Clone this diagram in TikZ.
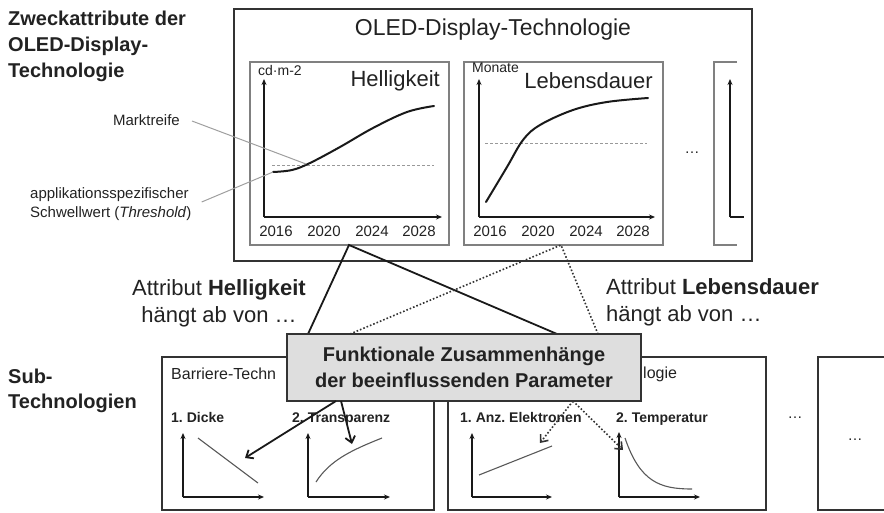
\documentclass[tikz,border=0pt]{standalone}
\usepackage{fontspec}
\setmainfont{Liberation Sans}
\usetikzlibrary{arrows.meta}
\newcommand{\fsz}[2]{\fontsize{#1}{#2}\selectfont}
\definecolor{txt}{HTML}{222222}
\definecolor{frame}{HTML}{333333}
\definecolor{panelc}{HTML}{808080}
\definecolor{boxfill}{HTML}{DEDEDE}
\frenchspacing
\begin{document}
\begin{tikzpicture}[x=1pt,y=-1pt,
  lbl/.style={inner sep=0pt,text=txt},
  bigframe/.style={draw=frame,line width=2pt},
  panel/.style={draw=panelc,line width=1.3pt},
  axis/.style={draw=black!90,line width=2pt,-{Stealth[length=6pt,width=5pt]}},
  curve/.style={draw=black!90,line width=2pt,line cap=round},
  thresh/.style={draw=gray!80,line width=1pt,dash pattern=on 3pt off 2pt},
  leader/.style={draw=gray!75,line width=1pt},
  minicurve/.style={draw=gray!70!black,line width=1.1pt},
  link/.style={draw=black!90,line width=1.8pt},
  dlink/.style={draw=black!80,line width=1.6pt,dotted},
  arr/.style={draw=black!90,line width=1.8pt,-{Straight Barb[length=6pt,width=10pt]}},
  darr/.style={draw=black!80,line width=1.6pt,dotted,-{Straight Barb[length=6pt,width=10pt]}},
  year/.style={lbl,font=\fsz{15}{18}},
  unit/.style={lbl,font=\fsz{14}{17},anchor=west},
  sublbl/.style={lbl,font=\fsz{14}{17}\bfseries,anchor=base west},
  dots/.style={lbl,font=\fsz{15}{18}}
]
\useasboundingbox (0,0) rectangle (884,512);
\begin{scope}
\clip (0,0) rectangle (884,512);

% ---------- left labels ----------
\node[lbl,anchor=west,align=left,font=\fsz{20}{26}\bfseries] (zweck) at (8,46)
  {Zweckattribute der\\OLED-Display-\\Technologie};
\node[lbl,anchor=west,align=left,font=\fsz{20}{25}\bfseries] (subtech) at (8,391)
  {Sub-\\Technologien};
\node[lbl,anchor=east,font=\fsz{15}{19}] (markt) at (180,120) {Marktreife};
\node[lbl,anchor=west,align=left,font=\fsz{15}{19}] (schwell) at (30,204)
  {applikationsspezifischer\\Schwellwert (\textit{Threshold})};

% ---------- OLED main frame ----------
\draw[bigframe] (234,9) rectangle (752,261);
\node[lbl,font=\fsz{23}{27}] (oled) at (493,30) {OLED-Display-Technologie};

% Helligkeit panel
\draw[panel] (250,62) rectangle (449,245);
\coordinate (hb) at (349,245);
\draw[axis] (264,217) -- (264,79);
\draw[axis] (264,217) -- (442,217);
\node[unit] (hunit) at (258,70) {cd·m-2};
\node[lbl,anchor=east,font=\fsz{22}{26}] (hell) at (440,81) {Helligkeit};
\draw[thresh] (272,165) -- (434,165);
\coordinate (hstart) at (273,172);
\coordinate (hmark) at (306,164);
\draw[curve] plot[smooth,tension=0.6] coordinates {(273,172) (292,170) (310,163) (340,147) (373,128) (407,112) (434,106)};
\node[year] (h16) at (276,231) {2016};
\node[year] (h20) at (324,231) {2020};
\node[year] (h24) at (372,231) {2024};
\node[year] (h28) at (419,231) {2028};

% Lebensdauer panel
\draw[panel] (464,62) rectangle (663,245);
\coordinate (lb) at (561,245);
\draw[axis] (479,217) -- (479,79);
\draw[axis] (479,217) -- (655,217);
\node[unit] (lunit) at (472,68) {Monate};
\node[lbl,anchor=east,font=\fsz{22}{26}] (leb) at (653,81) {Lebensdauer};
\draw[thresh] (485,143) -- (647,143);
\draw[curve] plot[smooth,tension=0.6] coordinates {(486,202) (507,167) (523,140) (540,125) (573,110) (607,102) (648,98)};
\node[year] (l16) at (490,231) {2016};
\node[year] (l20) at (538,231) {2020};
\node[year] (l24) at (586,231) {2024};
\node[year] (l28) at (633,231) {2028};

% dots and partial panel
\node[dots] (tdots) at (692,153) {\dots};
\draw[panel] (737,62) -- (714,62) -- (714,245) -- (737,245);
\draw[axis] (730,217) -- (730,79);
\draw[draw=black!90,line width=2pt] (730,217) -- (744,217);

% leaders
\draw[leader] (markt.east) ++(12,1) coordinate (mk) -- (hmark);
\draw[leader] (schwell.east) ++(10,-2) coordinate (sw) -- (hstart);

% ---------- middle texts ----------
\node[lbl,align=center,font=\fsz{22}{27}] (attrH) at (219,303)
  {Attribut \textbf{Helligkeit}\\hängt ab von …};
\node[lbl,anchor=west,align=left,font=\fsz{22}{27}] (attrL) at (606,302)
  {Attribut \textbf{Lebensdauer}\\hängt ab von …};

% ---------- bottom boxes ----------
\draw[bigframe] (162,357) rectangle (434,510);
\node[lbl,anchor=west,font=\fsz{16}{19}] (barr) at (171,374) {Barriere-Techn};
\node[sublbl] (dicke) at (171,422) {1. Dicke};
\node[sublbl] (transp) at (292,422) {2. Transparenz};
\draw[axis] (183,497) -- (183,433);
\draw[axis] (183,497) -- (264,497);
\draw[minicurve] (198,438) -- (258,483);
\coordinate (dtarget) at (245,458);
\draw[axis] (308,497) -- (308,433);
\draw[axis] (308,497) -- (390,497);
\draw[minicurve] (316,482) .. controls (330,460) and (352,450) .. (382,438);
\coordinate (ttarget) at (352,444);

\draw[bigframe] (448,357) rectangle (766,510);
\node[lbl,anchor=west,font=\fsz{16}{19}] (otech) at (643,374) {logie};
\node[sublbl] (anz) at (460,422) {1. Anz. Elektronen};
\node[sublbl] (temp) at (616,422) {2. Temperatur};
\draw[axis] (472,497) -- (472,433);
\draw[axis] (472,497) -- (552,497);
\draw[minicurve] (479,475) -- (552,446);
\coordinate (atarget) at (540,443);
\draw[axis] (619,497) -- (619,432);
\draw[axis] (619,497) -- (700,497);
\draw[minicurve] (625,438) .. controls (640,482) and (660,489) .. (692,489);
\coordinate (tptarget) at (623,450);

\node[dots] (bdots) at (795,418) {\dots};
\draw[bigframe] (818,357) rectangle (900,510);
\node[dots] (cdots) at (855,440) {\dots};

% ---------- links from panels to box ----------
\coordinate (fzA) at (308,334);
\coordinate (fzB) at (557,334);
\coordinate (fzC) at (350,334);
\coordinate (fzD) at (598,334);
\draw[link] (fzA) -- (hb) -- (fzB);
\draw[dlink] (fzC) -- (lb) -- (fzD);

% ---------- central box ----------
\node[draw=frame,line width=1.6pt,fill=boxfill,minimum width=354pt,minimum height=67pt,
  align=center,text=txt,font=\fsz{20}{26}\bfseries] (fz) at (464,367.5)
  {Funktionale Zusammenhänge\\der beeinflussenden Parameter};

\coordinate (fzE) at (336,401);
\coordinate (fzF) at (341,401);
\coordinate (fzG) at (573,401);
\draw[arr] (fzE) -- (dtarget);
\draw[arr] (fzF) -- (ttarget);
\draw[darr] (fzG) -- (atarget);
\draw[darr] (fzG) -- (tptarget);
\end{scope}
\end{tikzpicture}
\end{document}
